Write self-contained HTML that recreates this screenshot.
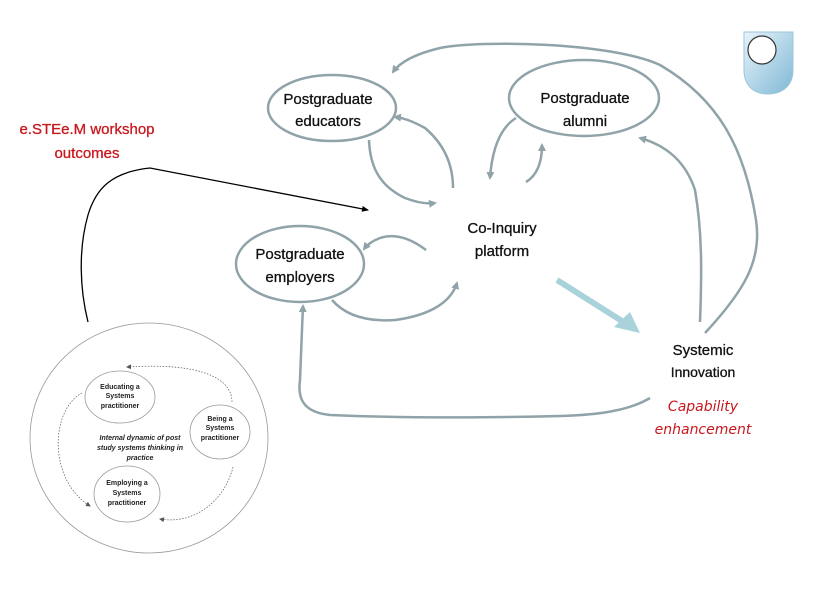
<!DOCTYPE html>
<html><head><meta charset="utf-8"><style>
body{margin:0;background:#fff;}
svg{display:block;font-family:"Liberation Sans",sans-serif;}
</style></head><body>
<svg width="824" height="595" viewBox="0 0 824 595" xmlns="http://www.w3.org/2000/svg">
<defs>
<marker id="ag" markerWidth="8" markerHeight="8" refX="6" refY="4" orient="auto" markerUnits="userSpaceOnUse"><path d="M0,0 L8,4 L0,8 z" fill="#8fa3a8"/></marker>
<marker id="ak" markerWidth="7" markerHeight="6" refX="6" refY="3" orient="auto" markerUnits="userSpaceOnUse"><path d="M0,0 L7,3 L0,6 z" fill="#000"/></marker>
<marker id="as" markerWidth="5" markerHeight="5" refX="4" refY="2.5" orient="auto" markerUnits="userSpaceOnUse"><path d="M0,0 L5,2.5 L0,5 z" fill="#555"/></marker>
<linearGradient id="lg" x1="0" y1="0" x2="1" y2="1"><stop offset="0" stop-color="#e8f4fa"/><stop offset="1" stop-color="#7fb8d6"/></linearGradient>
</defs>
<g fill="none" stroke="#8fa3a8" stroke-width="2.5">
<ellipse cx="332" cy="108" rx="64" ry="33"/>
<ellipse cx="584" cy="98" rx="75" ry="38"/>
<ellipse cx="300" cy="264" rx="64" ry="38"/>
<path d="M705,333 C745,290 762,260 756,220 C745,150 720,100 660,65 C610,42 480,40 440,48 C415,54 400,62 393,72" marker-end="url(#ag)"/>
<path d="M700,322 C702,270 702,230 695,190 C685,160 665,145 640,138" marker-end="url(#ag)"/>
<path d="M369,140 C370,165 378,185 405,198 C418,203 428,204 435,203" marker-end="url(#ag)"/>
<path d="M453,188 C453,165 445,145 425,128 C412,121 404,118 395,117" marker-end="url(#ag)"/>
<path d="M516,118 C500,128 492,150 490,178" marker-end="url(#ag)"/>
<path d="M526,182 C536,176 542,165 542,145" marker-end="url(#ag)"/>
<path d="M426,250 C410,238 395,233 380,238 C372,241 367,245 364,249" marker-end="url(#ag)"/>
<path d="M332,300 C345,315 365,322 395,320 C425,316 450,305 457,283" marker-end="url(#ag)"/>
<path d="M650,398 C630,410 600,415 560,416 C480,418 400,418 330,415 C300,412 298,395 300,380 C301,350 302,330 303,306" marker-end="url(#ag)"/>
</g>
<path d="M557,280 L633,328" stroke="#a9d2db" stroke-width="6" fill="none"/>
<path d="M640,333 L614,327 L630,312 z" fill="#a9d2db"/>
<path d="M88,322 C80,290 78,250 88,215 C96,188 112,172 150,168 L368,210" fill="none" stroke="#000" stroke-width="1.3" marker-end="url(#ak)"/>
<path d="M744,32 L793,32 L793,70 C793,86 782,94 768,94 C754,94 744,86 744,70 z" fill="url(#lg)" stroke="#9cc6dd"/>
<circle cx="762" cy="50" r="14" fill="#fff" stroke="#333" stroke-width="1.2"/>
<g font-size="15" text-anchor="middle" fill="#111" stroke="#111" stroke-width="0.3">
<text x="328" y="104">Postgraduate</text><text x="328" y="126">educators</text>
<text x="585" y="103">Postgraduate</text><text x="585" y="126">alumni</text>
<text x="300" y="259">Postgraduate</text><text x="300" y="282">employers</text>
<text x="502" y="233">Co-Inquiry</text><text x="502" y="256">platform</text>
<text x="703" y="355">Systemic</text>
<text x="703" y="377" font-size="14">Innovation</text>
</g>
<g font-size="15" text-anchor="middle" fill="#c8181e" stroke="#c8181e" stroke-width="0.3">
<text x="87" y="134">e.STEe.M workshop</text><text x="87" y="158">outcomes</text>
</g>
<g font-size="14" text-anchor="middle" fill="#c8181e" font-style="italic" font-family="'DejaVu Sans',sans-serif">
<text x="703" y="411">Capability</text><text x="703" y="434">enhancement</text>
</g>
<g fill="none" stroke="#999" stroke-width="0.8">
<ellipse cx="149" cy="438" rx="119" ry="115"/>
<ellipse cx="120" cy="397" rx="35" ry="26"/>
<ellipse cx="220" cy="432" rx="30" ry="27"/>
<ellipse cx="127" cy="494" rx="33" ry="28"/>
</g>
<g fill="none" stroke="#555" stroke-width="0.7" stroke-dasharray="1.5,1.5">
<path d="M232,402 C232,380 205,362 127,367" marker-end="url(#as)"/>
<path d="M82,393 C50,410 48,480 90,506" marker-end="url(#as)"/>
<path d="M233,467 C225,500 195,525 160,519" marker-end="url(#as)"/>
</g>
<g font-size="7" font-weight="bold" text-anchor="middle" fill="#222">
<text x="120" y="389">Educating a</text><text x="120" y="398">Systems</text><text x="120" y="408">practitioner</text>
<text x="220" y="421">Being a</text><text x="220" y="430">Systems</text><text x="220" y="440">practitioner</text>
<text x="127" y="485">Employing a</text><text x="127" y="495">Systems</text><text x="127" y="505">practitioner</text>
<g font-style="italic"><text x="140" y="440">Internal dynamic of post</text><text x="140" y="450">study systems thinking in</text><text x="140" y="460">practice</text></g>
</g>
</svg>
</body></html>
